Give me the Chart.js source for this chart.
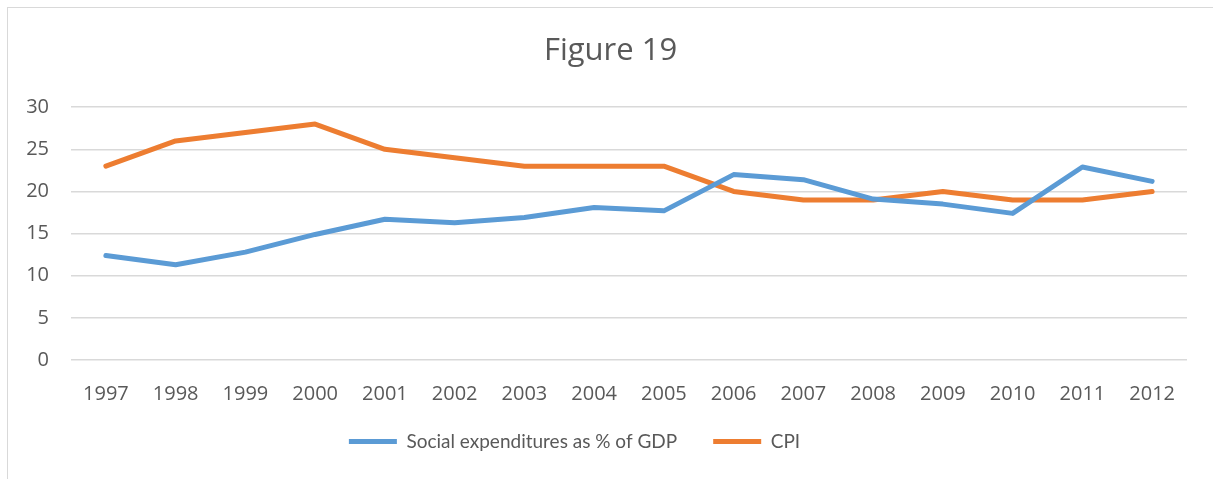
<!DOCTYPE html>
<html>
<head>
<meta charset="utf-8">
<script src="https://cdn.jsdelivr.net/npm/chart.js@4.4.1/dist/chart.umd.min.js"></script>
<style>
  html, body { margin: 0; padding: 0; background: #fff; overflow: hidden; }
  #frame {
    position: absolute; left: 7px; top: 7px; width: 1206px; height: 472px;
    border-top: 1px solid #d9d9d9; border-left: 1px solid #d9d9d9;
  }
  #chartKu { display: block; }
</style>
</head>
<body>
<div id="frame">
  <canvas id="chartKu" width="1205" height="471"></canvas>
</div>
<script>
const years = ['1997', '1998', '1999', '2000', '2001', '2002', '2003', '2004',
               '2005', '2006', '2007', '2008', '2009', '2010', '2011', '2012']
const socialExp = [12.4, 11.3, 12.8, 14.9, 16.7, 16.3, 16.9, 18.1,
                   17.7, 22.0, 21.4, 19.1, 18.5, 17.4, 22.9, 21.2]
const cpi = [23, 26, 27, 28, 25, 24, 23, 23, 23, 20, 19, 19, 20, 19, 19, 20]
const yTicks = [0, 5, 10, 15, 20, 25, 30]

const grey = '#595959'
let ctx = document.getElementById('chartKu').getContext('2d')

// nudge the legend a little left of centre and up
const legendShift = {
  id: 'legendShift',
  afterLayout(chart) {
    const lg = chart.legend
    lg.left -= 36
    lg.right -= 36
    lg.top -= 5
    lg.bottom -= 5
  }
}

let chart = new Chart(ctx, {
  type: 'line',
  data: {
    labels: years,
    datasets: [{
      label: 'Social expenditures as % of GDP',
      data: socialExp,
      borderColor: '#5b9bd5',
      backgroundColor: '#5b9bd5',
      borderWidth: 5,
      borderCapStyle: 'round',
      borderJoinStyle: 'round',
      pointRadius: 0,
      tension: 0
    }, {
      label: 'CPI',
      data: cpi,
      borderColor: '#ed7d31',
      backgroundColor: '#ed7d31',
      borderWidth: 5,
      borderCapStyle: 'round',
      borderJoinStyle: 'round',
      pointRadius: 0,
      tension: 0
    }]
  },
  options: {
    responsive: false,
    animation: false,
    layout: { padding: { left: 13, right: 13, top: 0, bottom: 13 } },
    plugins: {
      tooltip: { enabled: false },
      title: {
        display: true,
        text: 'Figure 19',
        color: grey,
        font: { family: 'Open Sans', size: 31, weight: 'normal' },
        padding: { top: 25, bottom: 37 }
      },
      legend: {
        position: 'bottom',
        labels: {
          color: grey,
          font: { family: 'Lato', size: 19 },
          usePointStyle: true,
          pointStyle: 'line',
          pointStyleWidth: 48,
          padding: 36
        }
      }
    },
    scales: {
      x: {
        offset: true,
        grid: { display: false, drawTicks: false },
        border: { display: false },
        ticks: {
          color: grey,
          font: { family: 'Open Sans', size: 20 },
          padding: 22,
          maxRotation: 0,
          autoSkip: false
        },
        afterFit: (scale) => { scale.height = 41 }
      },
      y: {
        min: 0,
        max: 30,
        afterBuildTicks: (scale) => { scale.ticks = yTicks.map(v => ({ value: v })) },
        grid: { color: '#d9d9d9', lineWidth: 1.5, drawTicks: false },
        border: { display: false },
        ticks: {
          color: grey,
          font: { family: 'Open Sans', size: 20 },
          padding: 22
        },
        afterFit: (scale) => { scale.width = 50 }
      },
      // empty strip on the right so the plot ends short of the frame edge
      yRight: {
        position: 'right',
        display: true,
        grid: { display: false, drawTicks: false },
        border: { display: false },
        ticks: { display: false },
        afterFit: (scale) => { scale.width = 13 }
      }
    }
  },
  plugins: [legendShift]
})
</script>
</body>
</html>
